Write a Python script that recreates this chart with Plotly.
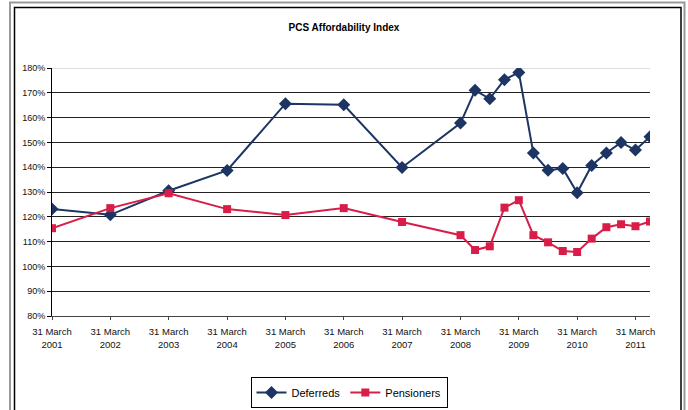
import plotly.graph_objects as go

dates = ["2001-03-31", "2002-03-31", "2003-03-31", "2004-03-31", "2005-03-31",
         "2006-03-31", "2007-03-31", "2008-03-31", "2008-06-30", "2008-09-30",
         "2008-12-31", "2009-03-31", "2009-06-30", "2009-09-30", "2009-12-31",
         "2010-03-31", "2010-06-30", "2010-09-30", "2010-12-31", "2011-03-31",
         "2011-06-30"]
deferreds = [123.1, 120.8, 130.5, 138.7, 165.6, 165.2, 139.9, 157.8, 171.0, 167.6,
             175.3, 178.2, 145.7, 138.8, 139.5, 129.7, 140.7, 145.7, 150.0, 146.9, 152.3]
pensioners = [115.4, 123.5, 129.5, 123.1, 120.7, 123.5, 117.9, 112.6, 106.6, 108.1,
              123.7, 126.7, 112.6, 109.7, 106.2, 105.8, 111.2, 115.8, 117.0, 116.2, 118.1]
tick_dates = ["%d-03-31" % y for y in range(2001, 2012)]
tick_text = ["31 March<br>%d" % y for y in range(2001, 2012)]
y_ticks = list(range(80, 181, 10))
y_text = ["%d%%" % v for v in y_ticks]

W, H = 688, 410
L, R, T, B = 52, 38, 68, 94
pw, ph = W - L - R, H - T - B

def px(x):
    return (x - L) / pw

def py(y):
    return (H - B - y) / ph

fig = go.Figure()
fig.add_trace(go.Scatter(x=dates, y=deferreds, name="Deferreds", mode="lines+markers",
                         line=dict(color="#1C3563", width=2),
                         marker=dict(symbol="diamond", size=10, color="#1C3563")))
fig.add_trace(go.Scatter(x=dates, y=pensioners, name="Pensioners", mode="lines+markers",
                         line=dict(color="#D81E48", width=2),
                         marker=dict(symbol="square", size=8, color="#D81E48")))

fig.update_layout(
    width=W, height=H,
    margin=dict(l=L, r=R, t=T, b=B, autoexpand=False),
    paper_bgcolor="white", plot_bgcolor="white",
    font=dict(family="Liberation Sans, Arial, sans-serif", size=9, color="#111"),
    title=dict(text="<b>PCS Affordability Index</b>", x=0.5, xanchor="center",
               xref="container", y=1 - 27 / H, yref="container", yanchor="middle",
               font=dict(size=10, color="#000")),
    showlegend=True,
    legend=dict(orientation="h", x=px(349), xanchor="center", y=py(377), yanchor="top",
                bordercolor="#000", borderwidth=1, font=dict(size=11, color="#000"),
                itemwidth=30, tracegroupgap=0, bgcolor="white"),
    xaxis=dict(type="date", range=["2001-03-31", "2011-06-30"], tickvals=tick_dates,
               ticktext=tick_text, showgrid=False, showline=True, linecolor="#444",
               linewidth=1, ticks="outside", ticklen=3, tickcolor="#444", zeroline=False,
               ticklabelstandoff=4, tickfont=dict(size=9.5)),
    yaxis=dict(range=[80, 180], tickvals=y_ticks, ticktext=y_text, showgrid=True,
               gridcolor="#222", gridwidth=1, showline=True, linecolor="#000",
               linewidth=1, ticks="outside", ticklen=4, tickcolor="#000", zeroline=False,
               tickfont=dict(size=9)),
    shapes=[
        dict(type="line", xref="paper", yref="y", x0=0, x1=1, y0=180, y1=180,
             line=dict(color="#dddddd", width=2), layer="below"),
        dict(type="rect", xref="paper", yref="paper", x0=px(14.5), x1=px(681),
             y0=py(430), y1=py(7.5), line=dict(color="#000", width=1.5), layer="below"),
        dict(type="rect", xref="paper", yref="paper", x0=px(10), x1=px(684.5),
             y0=py(440), y1=py(2.5), line=dict(color="#999", width=2), layer="below"),
    ],
)
fig.write_html("out.html", config={"displayModeBar": False},
               post_script="document.body.style.margin='0';")
